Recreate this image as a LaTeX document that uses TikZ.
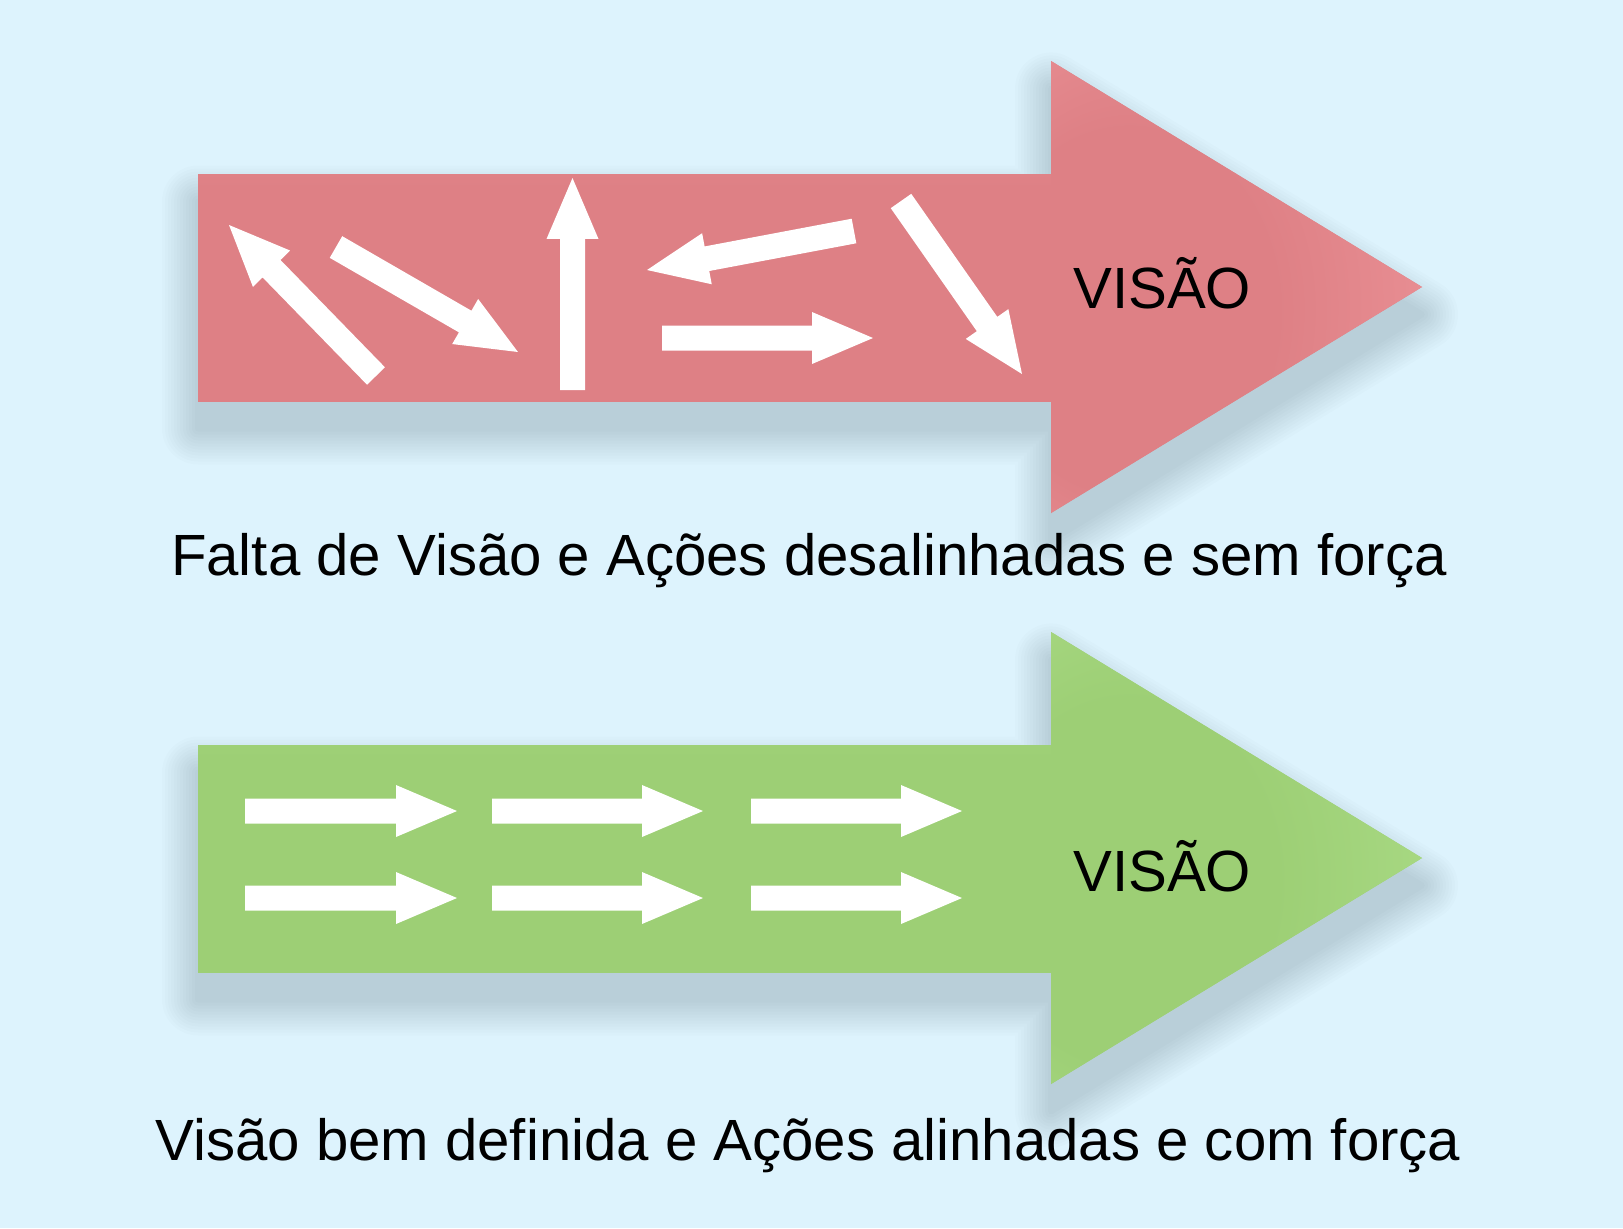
\documentclass[tikz,border=0pt]{standalone}
\usepackage{fontspec}
\setmainfont{Liberation Sans}
\usetikzlibrary{calc}
\definecolor{sky}{HTML}{DDF3FD}
\definecolor{redbase}{HTML}{DE8085}
\definecolor{redlight}{HTML}{EB9297}
\definecolor{greenbase}{HTML}{9DCF75}
\definecolor{greenlight}{HTML}{AADB86}
\pgfdeclareverticalshading{redshaft}{100bp}{color(0bp)=(redbase); color(72bp)=(redbase); color(100bp)=(redlight)}
\pgfdeclareverticalshading{greenshaft}{100bp}{color(0bp)=(greenbase); color(72bp)=(greenbase); color(100bp)=(greenlight)}
\pgfdeclareradialshading{redhead}{\pgfpoint{-22bp}{-4bp}}{color(0bp)=(redbase); color(20bp)=(redbase); color(40bp)=(redlight); color(60bp)=(redlight)}
\pgfdeclareradialshading{greenhead}{\pgfpoint{-22bp}{-4bp}}{color(0bp)=(greenbase); color(20bp)=(greenbase); color(40bp)=(greenlight); color(60bp)=(greenlight)}
\tikzset{shadowlayer/.style = {black, draw, line join=round, yshift=-0.55cm},
  bigtext/.style = {font=\fontsize{33.1pt}{40pt}\selectfont, inner sep=0}}
\newcommand\bigarrowpath[1]{(198,174+#1) -- (1051,174+#1) -- (1051,61+#1) -- (1422,287+#1) -- (1051,513+#1) -- (1051,401+#1) -- (198,401+#1) -- cycle}
\newcommand\bigarrow[2]{%
  \foreach \w in {0.12,0.24,...,1.5} {
    \begin{scope}[transparency group, opacity=0.011]
      \fill [shadowlayer, line width=\w cm] \bigarrowpath{#1};
    \end{scope}}
  \fill [#2base] \bigarrowpath{#1};
  \shade [shading=#2shaft] (198,174+#1) rectangle (1051,401+#1);
  \shade [shading=#2head] (1051,61+#1) -- (1422,287+#1) -- (1051,513+#1) -- cycle;}
\newcommand\whitearrow[2]{%
  \coordinate (hb) at ($(#2)!1.22cm!(#1)$);
  \fill [white] ($(#1)!0.25cm!90:(#2)$) -- ($(hb)!0.25cm!-90:(#1)$) -- ($(hb)!0.52cm!-90:(#1)$) -- (#2)
    -- ($(hb)!0.52cm!90:(#1)$) -- ($(hb)!0.25cm!90:(#1)$) -- ($(#1)!0.25cm!-90:(#2)$) -- cycle;}

\begin{document}
\begin{tikzpicture}[x=0.02cm, y=-0.02cm]
          \fill [sky] (0,0) rectangle (1623,1228);
          \useasboundingbox (0,0) rectangle (1623,1228);

          \bigarrow{0}{red}
          \bigarrow{571}{green}

          \coordinate (t1) at (376,376);   \coordinate (h1) at (229,225);
          \coordinate (t2) at (336,247);   \coordinate (h2) at (518,352);
          \coordinate (t3) at (572.5,390); \coordinate (h3) at (572.5,178);
          \coordinate (t4) at (854,231);   \coordinate (h4) at (647,270);
          \coordinate (t5) at (662,338);   \coordinate (h5) at (873,338);
          \coordinate (t6) at (901,201);   \coordinate (h6) at (1022,374);

          \whitearrow{t1}{h1}
          \whitearrow{t2}{h2}
          \whitearrow{t3}{h3}
          \whitearrow{t4}{h4}
          \whitearrow{t5}{h5}
          \whitearrow{t6}{h6}

          \coordinate (a1) at (245,811); \coordinate (b1) at (457,811);
          \coordinate (a2) at (492,811); \coordinate (b2) at (703,811);
          \coordinate (a3) at (751,811); \coordinate (b3) at (962,811);
          \coordinate (a4) at (245,898); \coordinate (b4) at (457,898);
          \coordinate (a5) at (492,898); \coordinate (b5) at (703,898);
          \coordinate (a6) at (751,898); \coordinate (b6) at (962,898);

          \whitearrow{a1}{b1}
          \whitearrow{a2}{b2}
          \whitearrow{a3}{b3}
          \whitearrow{a4}{b4}
          \whitearrow{a5}{b5}
          \whitearrow{a6}{b6}

          \node [bigtext, anchor=base west] (rvis) at (1073,308) {VISÃO};
          \node [bigtext, anchor=base west] (gvis) at (1073,891) {VISÃO};

          \node [bigtext, anchor=base] (rcap) at (809,575) {Falta de Visão e Ações desalinhadas e sem força};
          \node [bigtext, anchor=base] (gcap) at (808,1160) {Visão bem definida e Ações alinhadas e com força};
        \end{tikzpicture}
\end{document}
